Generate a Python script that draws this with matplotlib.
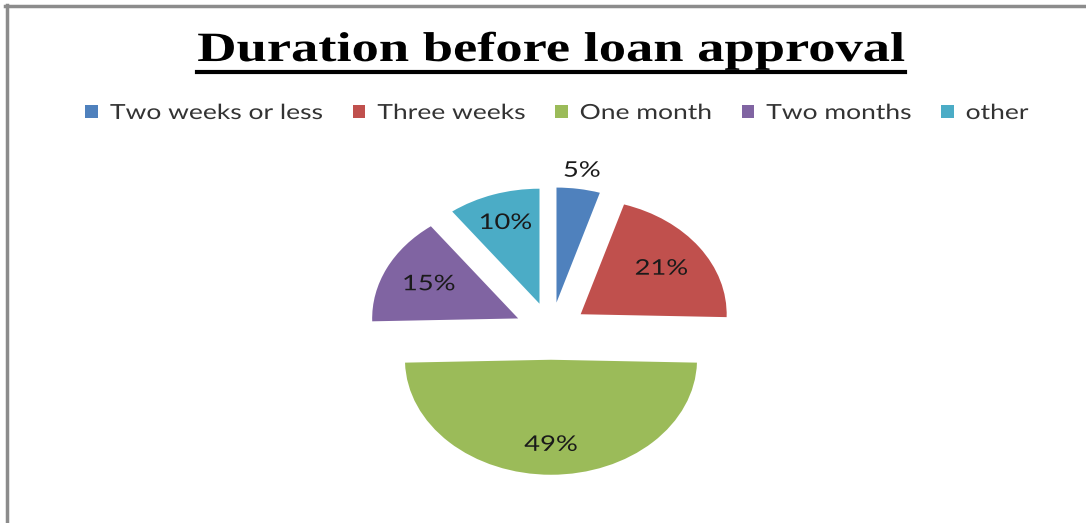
import matplotlib
matplotlib.use("Agg")
import matplotlib.pyplot as plt
import numpy as np
from matplotlib.lines import Line2D
from matplotlib.patches import Rectangle
from matplotlib.patheffects import AbstractPathEffect
from matplotlib.transforms import Affine2D, Bbox

title = "Duration before loan approval"
categories = ["Two weeks or less", "Three weeks", "One month", "Two months", "other"]
values = [4.8, 20.6, 49.2, 15.2, 10.2]
colors = ["#4f81bd", "#c0504d", "#9bbb59", "#8064a2", "#4bacc6"]
label_dist = [1.16, 0.68, 0.74, 0.68, 0.74]
explode_frac = 0.25

W, H = 1086, 523
# the original chart is stretched horizontally; replicate for text glyphs too
rx, ry = 146.0, 115.0
STRETCH = rx / ry


class HStretch(AbstractPathEffect):
    """Stretch text glyphs horizontally (around left edge or centre)."""

    def __init__(self, s, anchor="left"):
        super().__init__()
        self.s = s
        self.anchor = anchor

    def draw_path(self, renderer, gc, tpath, affine, rgbFace=None):
        c = 0.0
        if self.anchor == "center":
            ext = tpath.get_extents()
            c = (ext.x0 + ext.x1) / 2
        pre = Affine2D().translate(-c, 0).scale(self.s, 1).translate(c, 0)
        renderer.draw_path(gc, tpath, pre + affine, rgbFace)


def stretch_left_layout(t, s):
    orig = t._get_layout

    def lay(renderer, orig=orig):
        bbox, info, descent = orig(renderer)
        bbox = Bbox.from_bounds(bbox.x0, bbox.y0, bbox.width * s, bbox.height)
        return bbox, info, descent

    t._get_layout = lay
    t.set_path_effects([HStretch(s, "left")])


fig = plt.figure(figsize=(W / 100, H / 100), dpi=100)
fig.patch.set_facecolor("white")

cx_px, cy_px = 551, 331
ax = fig.add_axes([0, 0, 1, 1])
wedges, _ = ax.pie(values, colors=colors, startangle=90, counterclock=False,
                   explode=[explode_frac] * len(values),
                   wedgeprops=dict(linewidth=0))
ax.set_aspect("auto")
ax.set_xlim(-cx_px / rx, (W - cx_px) / rx)
ax.set_ylim(-(H - cy_px) / ry, cy_px / ry)
ax.axis("off")

for w, v, d in zip(wedges, values, label_dist):
    mid = np.deg2rad((w.theta1 + w.theta2) / 2)
    ex, ey = w.center
    t = ax.text(ex + d * np.cos(mid), ey + d * np.sin(mid), f"{round(v)}%",
                ha="center", va="center", fontsize=15.5, family="Lato",
                color="#1a1a1a")
    t.set_path_effects([HStretch(STRETCH, "center")])

# border lines (top and left)
fig.add_artist(Line2D([6.5 / W, 6.5 / W], [0, 1 - 5 / H], transform=fig.transFigure,
                      color="#8c8c8c", lw=2.5))
fig.add_artist(Line2D([5 / W, 1], [1 - 6 / H, 1 - 6 / H], transform=fig.transFigure,
                      color="#8c8c8c", lw=2.5))

# title with underline
tt = fig.text(551 / W, 1 - 51 / H, title, ha="center", va="center",
              fontsize=30, fontweight="bold", family="Liberation Serif")
tt.set_path_effects([HStretch(STRETCH * 1.03, "center")])

# legend
handles = [Rectangle((0, 0), 1, 1, facecolor=c, edgecolor="none") for c in colors]
leg = fig.legend(handles, categories, loc="center", bbox_to_anchor=(557 / W, 1 - 113 / H),
                 ncol=5, frameon=False, prop=dict(family="Lato", size=15),
                 handlelength=0.6, handleheight=0.6, handletextpad=0.58,
                 columnspacing=1.4, labelcolor="#333333")
for t in leg.get_texts():
    stretch_left_layout(t, STRETCH)

fig.canvas.draw()
bb = tt.get_window_extent()
cxt = (bb.x0 + bb.x1) / 2
half = bb.width * STRETCH * 1.03 / 2
fig.add_artist(Line2D([(cxt - half) / W, (cxt + half) / W], [1 - 72 / H, 1 - 72 / H],
                      transform=fig.transFigure, color="black", lw=3))

fig.savefig("out.png", dpi=100, facecolor="white")
